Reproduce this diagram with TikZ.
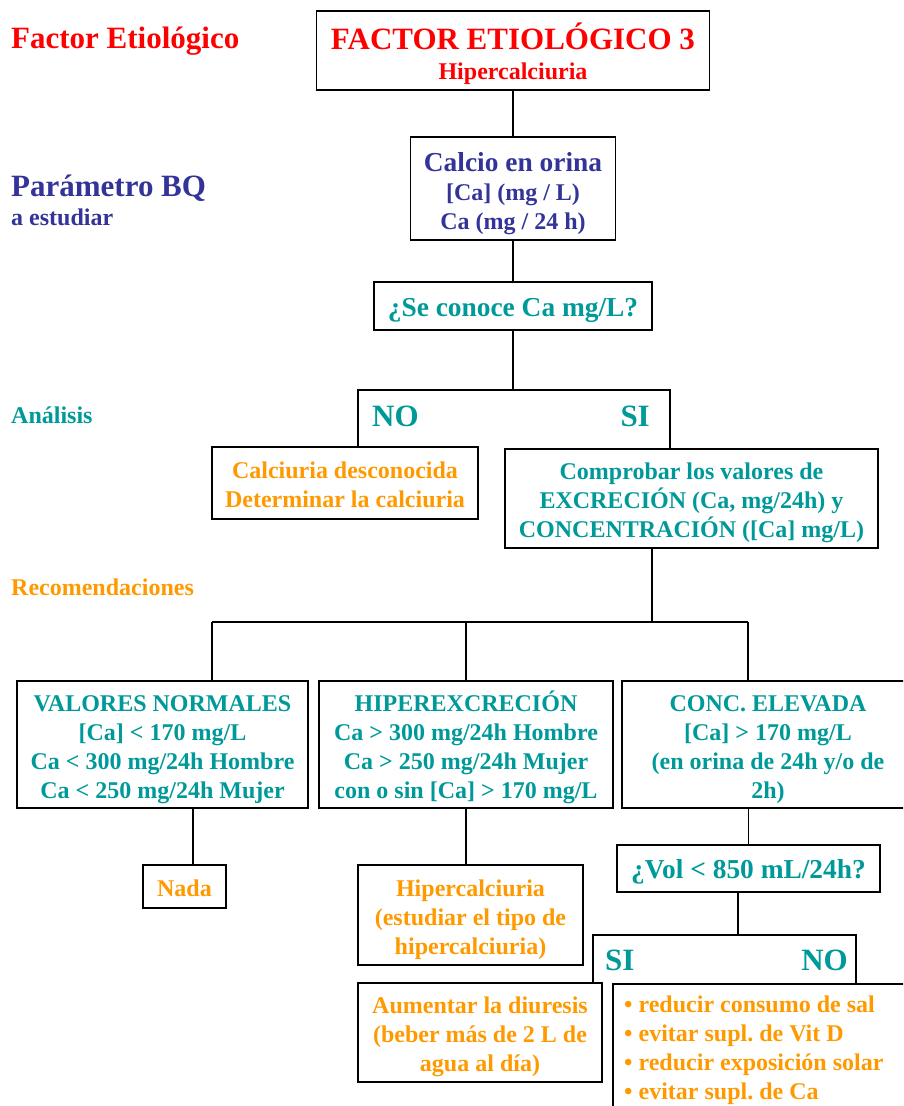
\documentclass[tikz,border=0pt]{standalone}
\usepackage{fontspec}
\setmainfont{Liberation Serif}
\frenchspacing
\definecolor{cred}{HTML}{FF0000}
\definecolor{cblue}{HTML}{333399}
\definecolor{cteal}{HTML}{009999}
\definecolor{corange}{HTML}{FF9900}
\newcommand{\fsA}{\fontsize{31}{34}\selectfont}
\newcommand{\fsB}{\fontsize{27.4}{30}\selectfont}
\newcommand{\fsC}{\fontsize{24}{29}\selectfont}
\newcommand{\TS}{\rule{0pt}{27pt}}
\newcommand{\BS}{\rule[-7pt]{0pt}{7pt}}
\begin{document}
\begin{tikzpicture}[x=1pt,y=-1pt,
  conn/.style={line width=1.8pt, black},
  box/.style={draw, line width=1.8pt, inner sep=0pt, align=center, font=\bfseries\fsC},
  lbl/.style={inner sep=0pt, anchor=base west, font=\bfseries}]
\useasboundingbox (0,0) rectangle (903,1106);
\clip (0,0) rectangle (903,1106);
% left labels
\node[lbl, text=cred, font=\bfseries\fsA] (lfe) at (11,48) {Factor Etiológico};
\node[lbl, text=cblue, font=\bfseries\fsA] (lpb) at (11,196) {Parámetro BQ};
\node[lbl, text=cblue, font=\bfseries\fsC] (lae) at (11,225) {a estudiar};
\node[lbl, text=cteal, font=\bfseries\fsC] (lan) at (11,423) {Análisis};
\node[lbl, text=corange, font=\bfseries\fsC] (lre) at (11,595) {Recomendaciones};
% boxes
\node[box, text=cred, minimum width=393, minimum height=79] (title) at (513,50.5)
  {\rule{0pt}{33pt}{\fsA FACTOR ETIOLÓGICO 3}\\[1pt] Hipercalciuria};
\node[box, text=cblue, minimum width=205, minimum height=103] (calcio) at (513,188.5)
  {\rule{0pt}{31pt}{\fsB Calcio en orina}\\ {[Ca]} (mg / L)\\ Ca (mg / 24 h)\BS};
\node[box, text=cteal, font=\bfseries\fsB, minimum width=278, minimum height=48] (ask) at (513,306)
  {\TS¿Se conoce Ca mg/L?\BS};
\node[minimum width=312, minimum height=58, inner sep=0pt] (nosi) at (514,419) {};
\draw[conn] (nosi.south west) -- (nosi.north west) -- (nosi.north east) -- (nosi.south east);
\node[lbl, text=cteal, font=\bfseries\fsA] (no1) at (372,426) {NO};
\node[lbl, text=cteal, font=\bfseries\fsA, anchor=base east] (si1) at (650,426) {SI};
\node[box, text=corange, minimum width=266, minimum height=72] (calc) at (345,483)
  {\TS Calciuria desconocida\\ Determinar la calciuria\BS};
\node[box, text=cteal, minimum width=373, minimum height=99] (comp) at (691.5,498.5)
  {\TS Comprobar los valores de\\ EXCRECIÓN (Ca, mg/24h) y\\ CONCENTRACIÓN ([Ca] mg/L)\BS};
\node[box, text=cteal, minimum width=291, minimum height=127] (valores) at (162.5,744.5)
  {\TS VALORES NORMALES\\ {[Ca]} < 170 mg/L\\ Ca < 300 mg/24h Hombre\\ Ca < 250 mg/24h Mujer\BS};
\node[box, text=cteal, minimum width=294, minimum height=127] (hiper) at (466,744.5)
  {\TS HIPEREXCRECIÓN\\ Ca > 300 mg/24h Hombre\\ Ca > 250 mg/24h Mujer\\ con o sin [Ca] > 170 mg/L\BS};
\node[box, text=cteal, minimum width=292, minimum height=127] (conc) at (768,744.5)
  {\TS CONC. ELEVADA\\ {[Ca]} > 170 mg/L\\ (en orina de 24h y/o de\\ 2h)\BS};
\node[box, text=corange, minimum width=83, minimum height=43] (nada) at (184.5,886.5) {\TS Nada\BS};
\node[box, text=corange, minimum width=225, minimum height=100] (hcal) at (470.5,915)
  {\TS Hipercalciuria\\ (estudiar el tipo de\\ hipercalciuria)\BS};
\node[box, text=corange, minimum width=244, minimum height=99] (aum) at (480,1032.5)
  {\TS Aumentar la diuresis\\ (beber más de 2 L de\\ agua al día)\BS};
\node[box, text=cteal, font=\bfseries\fsB, minimum width=263, minimum height=47] (vol) at (748.5,868.5)
  {\TS¿Vol < 850 mL/24h?\BS};
\node[minimum width=263, minimum height=48, inner sep=0pt] (sino) at (724.5,959) {};
\draw[conn] (sino.south west) -- (sino.north west) -- (sino.north east) -- (sino.south east);
\node[lbl, text=cteal, font=\bfseries\fsA] (si2) at (605,970) {SI};
\node[lbl, text=cteal, font=\bfseries\fsA, anchor=base east] (no2) at (848,970) {NO};
\node[draw, line width=1.8pt, inner sep=0pt, minimum width=302, minimum height=140, anchor=north west] (bul) at (612,983) {};
\node[inner sep=0pt, anchor=north west, align=left, text=corange, font=\bfseries\fsC] (bultxt) at (624,996)
  {• reducir consumo de sal\\ • evitar supl. de Vit D\\ • reducir exposición solar\\ • evitar supl. de Ca};
% connectors
\draw[conn] (title.south) -- (calcio.north);
\draw[conn] (calcio.south) -- (ask.north);
\draw[conn] (ask.south) -- (ask.south |- nosi.north);
\coordinate (bus) at (652,622);
\coordinate (busL) at (212,622);
\coordinate (busR) at (748,622);
\draw[conn] (bus |- comp.south) -- (bus);
\draw[conn] (busL) -- (busR);
\draw[conn] (busL) -- (busL |- valores.north);
\draw[conn] (hiper.north |- busL) -- (hiper.north);
\draw[conn] (busR) -- (busR |- conc.north);
\coordinate (vn) at (193,830);
\draw[conn] (vn |- valores.south) -- (vn |- nada.north);
\draw[conn] (hiper.south) -- (hiper.south |- hcal.north);
\draw[conn] (vol.north |- conc.south) -- (vol.north);
\coordinate (vs) at (738,910);
\draw[conn] (vs |- vol.south) -- (vs |- sino.north);
\end{tikzpicture}
\end{document}
